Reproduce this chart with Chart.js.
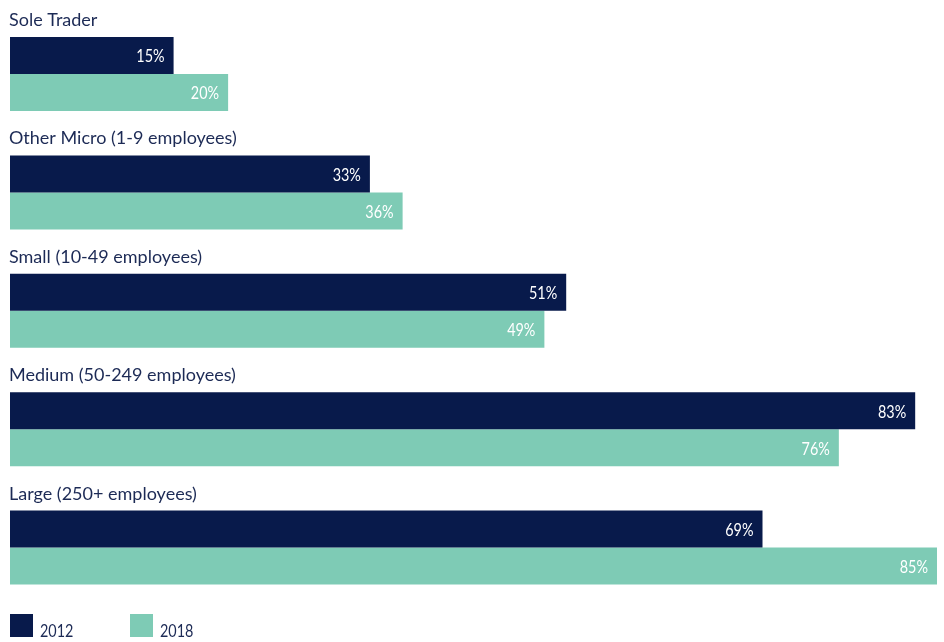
<!DOCTYPE html>
<html>
<head>
<meta charset="utf-8">
<script src="https://cdn.jsdelivr.net/npm/chart.js@4"></script>
<style>
  html, body { margin: 0; padding: 0; background: #fff; }
  #wrap { width: 944px; height: 642px; }
</style>
</head>
<body>
<div id="wrap"><canvas id="sizeChart" width="944" height="642"></canvas></div>
<script>
// Business size categories and share per survey year (%)
const categories = [
    'Sole Trader',
    'Other Micro (1-9 employees)',
    'Small (10-49 employees)',
    'Medium (50-249 employees)',
    'Large (250+ employees)'
];
const years = ['2012', '2018'];
const values2012 = [15, 33, 51, 83, 69];
const values2018 = [20, 36, 49, 76, 85];

const NAVY = '#081a4b';
const TEAL = '#7ecbb5';
const TEXT = '#1c2a55';
const FONT = 'Lato, "Open Sans", sans-serif';

// digits in this house style run narrow, so squeeze numeric text a bit
function narrowText(ctx, text, x, y) {
    const w = ctx.measureText(text).width;
    ctx.fillText(text, x, y, w * 0.8);
}

// Category name above each pair of bars, value inside the bar end
const barLabels = {
    id: 'barLabels',
    afterDatasetsDraw(chart) {
        const ctx = chart.ctx;
        ctx.save();
        const first = chart.getDatasetMeta(0).data;
        first.forEach((bar, i) => {
            const top = bar.y - bar.height / 2;
            ctx.fillStyle = TEXT;
            ctx.font = '18px ' + FONT;
            ctx.textAlign = 'left';
            ctx.textBaseline = 'alphabetic';
            ctx.fillText(chart.data.labels[i], 9, top - 11);
        });
        chart.data.datasets.forEach((ds, di) => {
            chart.getDatasetMeta(di).data.forEach((bar, i) => {
                ctx.fillStyle = '#ffffff';
                ctx.font = '18px ' + FONT;
                ctx.textAlign = 'right';
                ctx.textBaseline = 'middle';
                narrowText(ctx, ds.data[i] + '%', bar.x - 9, bar.y + 1);
            });
        });
        ctx.restore();
    }
};

// Square swatches with the year below the plot
const yearLegend = {
    id: 'yearLegend',
    afterDraw(chart) {
        const ctx = chart.ctx;
        ctx.save();
        ctx.font = '18px ' + FONT;
        ctx.textAlign = 'left';
        ctx.textBaseline = 'alphabetic';
        let x = 10;
        chart.data.datasets.forEach(ds => {
            ctx.fillStyle = ds.backgroundColor;
            ctx.fillRect(x, 614, 23, 23);
            ctx.fillStyle = TEXT;
            narrowText(ctx, ds.label, x + 30, 637);
            x += 120;
        });
        ctx.restore();
    }
};

new Chart(document.getElementById('sizeChart'), {
    type: 'bar',
    data: {
        labels: categories,
        datasets: [
            { label: years[0], data: values2012, backgroundColor: NAVY },
            { label: years[1], data: values2018, backgroundColor: TEAL }
        ]
    },
    options: {
        indexAxis: 'y',
        responsive: false,
        animation: false,
        layout: { padding: { top: 14.8, bottom: 35.2, left: 10, right: 7 } },
        datasets: {
            bar: { categoryPercentage: 0.625, barPercentage: 1, borderWidth: 0 }
        },
        scales: {
            x: { display: false, min: 0, max: 85 },
            y: { display: false }
        },
        plugins: {
            legend: { display: false },
            tooltip: { enabled: false }
        }
    },
    plugins: [barLabels, yearLegend]
});
</script>
</body>
</html>
